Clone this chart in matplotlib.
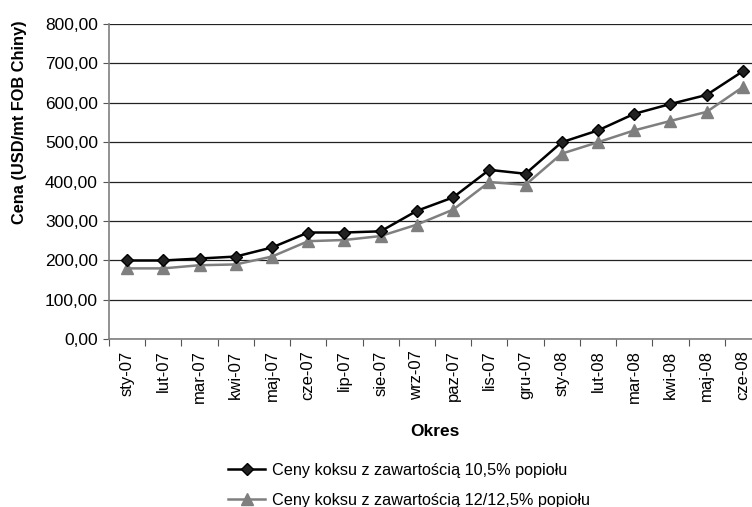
import numpy as np
import matplotlib.pyplot as plt

plt.rcParams['font.family'] = ['Liberation Sans', 'DejaVu Sans']

# Dane
okresy = ["sty-07", "lut-07", "mar-07", "kwi-07", "maj-07", "cze-07",
          "lip-07", "sie-07", "wrz-07", "paz-07", "lis-07", "gru-07",
          "sty-08", "lut-08", "mar-08", "kwi-08", "maj-08", "cze-08"]
ceny_105 = [200, 200, 205, 210, 233, 271, 271, 274, 326, 360, 430, 420,
            500, 530, 572, 597, 620, 680]
ceny_125 = [180, 180, 188, 190, 210, 249, 252, 262, 291, 329, 399, 392,
            471, 500, 530, 554, 577, 640]
y_ticks = [0, 100, 200, 300, 400, 500, 600, 700, 800]

fig = plt.figure(figsize=(7.52, 5.07), dpi=100)
ax = fig.add_axes([0.1449, 0.3307, 0.867, 0.6220])

x = np.arange(len(okresy))

ax.plot(x, ceny_105, color="black", lw=1.8, marker="D", ms=6.5,
        markerfacecolor="#222222", markeredgecolor="black",
        label="Ceny koksu z zawartością 10,5% popiołu", zorder=4)
ax.plot(x, ceny_125, color="#7f7f7f", lw=1.8, marker="^", ms=8,
        markerfacecolor="#7f7f7f", markeredgecolor="#7f7f7f",
        label="Ceny koksu z zawartością 12/12,5% popiołu", zorder=3)

ax.set_xlim(-0.5, len(okresy) - 0.5)
ax.set_ylim(0, 800)
ax.set_yticks(y_ticks)
ax.set_yticklabels([f"{v:.2f}".replace(".", ",") for v in y_ticks], fontsize=12.5)
ax.yaxis.grid(True, color="#222222", lw=0.9)
ax.set_axisbelow(True)

# ticki na granicach kategorii, etykiety pośrodku
ax.set_xticks(np.arange(len(okresy) + 1) - 0.5)
ax.set_xticklabels([])
ax.set_xticks(x, minor=True)
ax.set_xticklabels(okresy, minor=True, rotation=90, fontsize=12)
ax.tick_params(axis="x", which="minor", length=0, pad=8)
ax.tick_params(axis="x", which="major", length=5, color="#555555")
ax.tick_params(axis="y", length=4, color="#555555", pad=4)

for s in ["top", "right"]:
    ax.spines[s].set_visible(False)
for s in ["left", "bottom"]:
    ax.spines[s].set_color("#7f7f7f")
    ax.spines[s].set_linewidth(1.2)

ax.set_ylabel("Cena (USD/mt FOB Chiny)", fontsize=11.8, fontweight="bold")
ax.yaxis.set_label_coords(-0.125, 0.689)
ax.set_xlabel("Okres", fontsize=12.5, fontweight="bold")
ax.xaxis.set_label_coords(0.5, -0.27)

fig.legend(loc="upper left", bbox_to_anchor=(0.303, 1 - 463 / 507),
           frameon=False, fontsize=11.7, handlelength=2.3, labelspacing=0.93,
           borderaxespad=0, borderpad=0, handletextpad=0.4)

fig.savefig("out.png", dpi=100)
